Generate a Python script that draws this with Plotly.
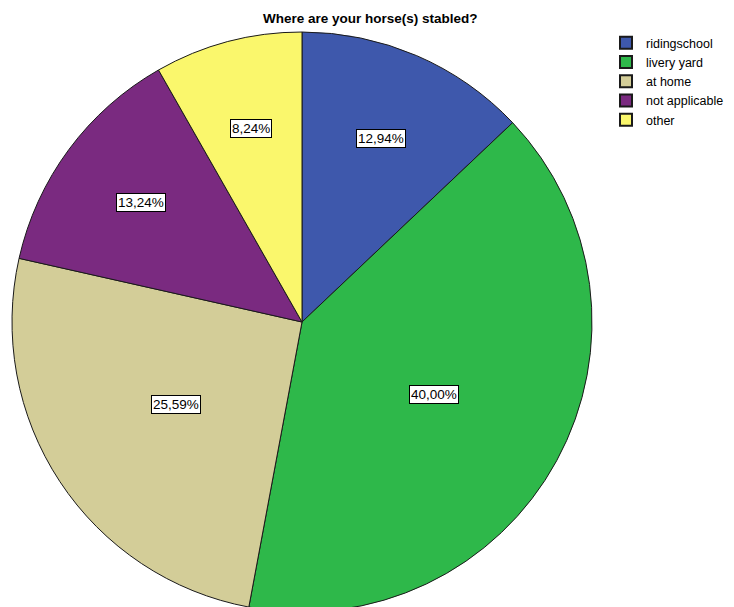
import math
import plotly.graph_objects as go

categories = ["ridingschool", "livery yard", "at home", "not applicable", "other"]
values = [12.94, 40.00, 25.59, 13.24, 8.24]
colors = ["#3E58AC", "#2EB84A", "#D3CD98", "#7A2A80", "#FAF76C"]
title_text = "Where are your horse(s) stabled?"

W, H = 734, 607
OFF = 8  # page body margin added by the browser
FONT = "Liberation Sans, Arial, sans-serif"

# pie geometry in figure pixels
cx, cy, R = 302 - OFF, 322 - OFF, 290
pie_left, pie_right = cx - R, cx + R
pie_top, pie_bottom = cy - R, cy + R

fig = go.Figure(go.Pie(
    labels=categories,
    values=values,
    sort=False,
    direction="clockwise",
    rotation=0,
    marker=dict(colors=colors, line=dict(color="#1a1a1a", width=1)),
    textinfo="none",
    hoverinfo="label+percent",
    domain=dict(x=[pie_left / W, pie_right / W], y=[1 - pie_bottom / H, 1 - pie_top / H]),
))

total = sum(values)
annotations = []
cum = 0.0
for v in values:
    mid = (cum + v / 2) / total * 2 * math.pi
    cum += v
    frac = 0.69 if v / total < 0.2 else 0.52
    px = cx + frac * R * math.sin(mid)
    py = cy - frac * R * math.cos(mid)
    annotations.append(dict(
        x=px / W, y=1 - py / H, xref="paper", yref="paper",
        xanchor="center", yanchor="middle",
        text=f"{v:.2f}".replace(".", ",") + "%",
        showarrow=False,
        font=dict(family=FONT, size=13.5, color="black"),
        bgcolor="white", bordercolor="black", borderwidth=1, borderpad=1,
    ))

annotations.append(dict(
    x=(370 - OFF) / W, y=1 - (18 - OFF) / H, xref="paper", yref="paper",
    xanchor="center", yanchor="middle",
    text="<b>" + title_text + "</b>", showarrow=False,
    font=dict(family=FONT, size=13.5, color="black"),
))

fig.update_layout(
    width=W, height=H,
    margin=dict(l=0, r=0, t=0, b=0),
    paper_bgcolor="white",
    annotations=annotations,
    showlegend=True,
    legend=dict(
        x=(606 - OFF) / W, y=1 - (28 - OFF) / H, xanchor="left", yanchor="top",
        font=dict(family=FONT, size=12.5, color="black"),
        tracegroupgap=0, itemsizing="constant",
    ),
)

fig.write_html("out.html")
